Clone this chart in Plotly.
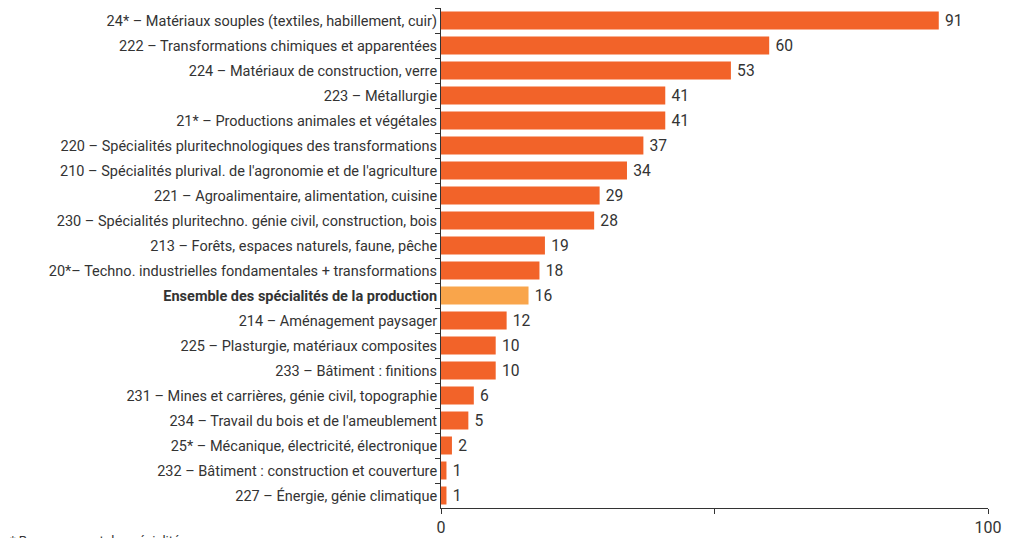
import plotly.graph_objects as go

labels = [
    "24* – Matériaux souples (textiles, habillement, cuir)",
    "222 – Transformations chimiques et apparentées",
    "224 – Matériaux de construction, verre",
    "223 – Métallurgie",
    "21* – Productions animales et végétales",
    "220 – Spécialités pluritechnologiques des transformations",
    "210 – Spécialités plurival. de l'agronomie et de l'agriculture",
    "221 – Agroalimentaire, alimentation, cuisine",
    "230 – Spécialités pluritechno. génie civil, construction, bois",
    "213 – Forêts, espaces naturels, faune, pêche",
    "20*– Techno. industrielles fondamentales + transformations",
    "<b>Ensemble des spécialités de la production</b>",
    "214 – Aménagement paysager",
    "225 – Plasturgie, matériaux composites",
    "233 – Bâtiment : finitions",
    "231 – Mines et carrières, génie civil, topographie",
    "234 – Travail du bois et de l'ameublement",
    "25* – Mécanique, électricité, électronique",
    "232 – Bâtiment : construction et couverture",
    "227 – Énergie, génie climatique",
]
values = [91, 60, 53, 41, 41, 37, 34, 29, 28, 19, 18, 16, 12, 10, 10, 6, 5, 2, 1, 1]
highlight = "<b>Ensemble des spécialités de la production</b>"

colors = ["#F9A54B" if l == highlight else "#F26329" for l in labels]

fig = go.Figure()
fig.add_trace(go.Bar(
    x=values, y=labels, orientation="h",
    marker=dict(color=colors, line=dict(width=0)),
    text=["\u2009" + str(v) for v in values], textposition="outside",
    textfont=dict(color="#333333", size=16.5),
    cliponaxis=False,
))

# the page body adds an 8px offset, so the figure is sized 8px smaller
fig.update_layout(
    width=1002, height=530,
    margin=dict(l=433, r=22, t=0, b=30),
    plot_bgcolor="white", paper_bgcolor="white",
    font=dict(family="Roboto, sans-serif", size=14.5, color="#333333"),
    bargap=0.28,
    showlegend=False,
    xaxis=dict(
        range=[0, 100], tickvals=[0, 50, 100], ticktext=["0", "", "100"],
        showgrid=False, zeroline=False, showline=True, linecolor="#333333", linewidth=1,
        ticks="outside", ticklen=5, tickcolor="#333333",
        tickfont=dict(size=16, color="#333333"), automargin=False,
    ),
    yaxis=dict(
        autorange="reversed", type="category",
        showgrid=False, zeroline=False, showline=True, linecolor="#333333", linewidth=1,
        ticks="outside", ticklen=5, tickcolor="#333333", tickson="boundaries",
        tickfont=dict(size=14.5, color="#333333"), automargin=False,
    ),
)

fig.add_annotation(
    text="* Regroupement de spécialités", xref="paper", yref="paper",
    x=-433 / 547, y=-0.046, xanchor="left", yanchor="top", showarrow=False,
    font=dict(size=13, color="#333333"),
)

fig.write_html("out.html")
